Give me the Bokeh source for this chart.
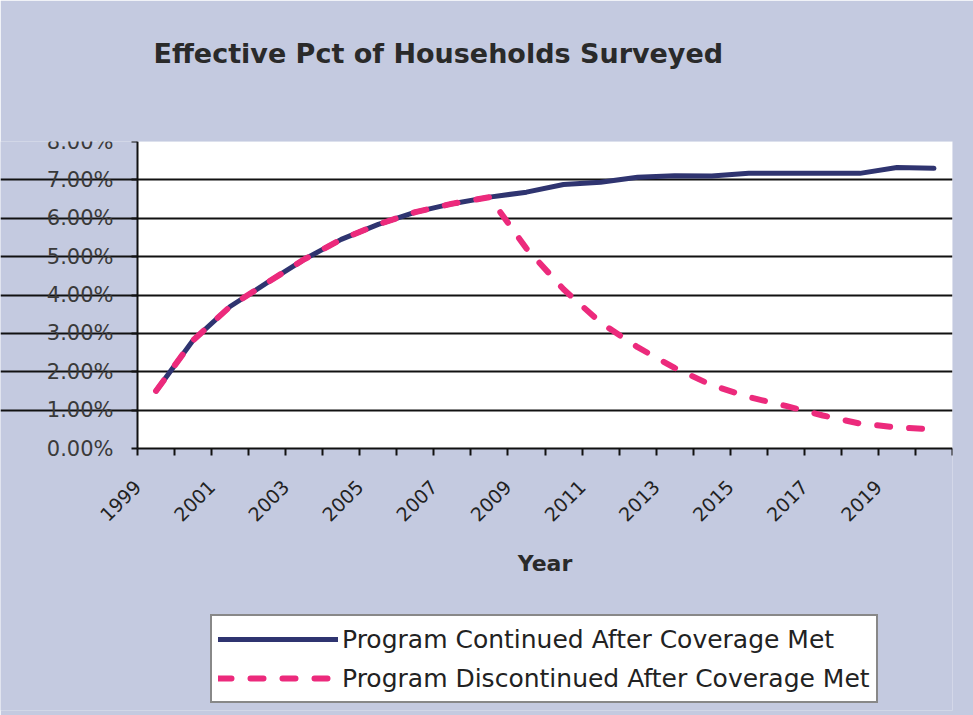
from bokeh.plotting import figure
from bokeh.models import (Range1d, FixedTicker, PrintfTickFormatter, Legend, LegendItem,
                          Title, BoxAnnotation)
from bokeh.embed import file_html
from bokeh.resources import INLINE

# Survey coverage, percent of households, 1999-2020
years = list(range(1999, 2021))
continued = [1.50, 2.82, 3.70, 4.32, 4.93, 5.45, 5.84, 6.16, 6.38, 6.55, 6.68,
             6.88, 6.94, 7.07, 7.11, 7.10, 7.17, 7.17, 7.17, 7.17, 7.32, 7.30]
discontinued = [1.50, 2.82, 3.70, 4.32, 4.93, 5.45, 5.84, 6.16, 6.38, 6.55, 5.21,
                4.15, 3.28, 2.64, 2.10, 1.65, 1.34, 1.11, 0.86, 0.65, 0.55, 0.50]
label_years = [1999, 2001, 2003, 2005, 2007, 2009, 2011, 2013, 2015, 2017, 2019]
y_ticks = [0, 1, 2, 3, 4, 5, 6, 7, 8]

chart_title = "Effective Pct of Households Surveyed"
series_names = ["Program Continued After Coverage Met",
                "Program Discontinued After Coverage Met"]

PANEL = "#c4cae0"
NAVY = "#2f3470"
PINK = "#ec2a7c"
FONT = "DejaVu Sans"

# Page geometry (pixels).  The frame spans the whole chart panel so the
# axis labels and the legend around the white plot area are drawn inside it.
PLOT_LEFT_PX = 137   # white plot area starts here
PLOT_W_PX = 815
PLOT_PX = 307        # height of the 0-8% plot area
BELOW_PX = 262       # room under the 0% line for year labels and legend
RIGHT_PX = 21

x_lo, x_hi = years[0] - 0.5, years[-1] + 0.5
px_per_year = PLOT_W_PX / (x_hi - x_lo)
x_start = x_lo - PLOT_LEFT_PX / px_per_year
y_low = -y_ticks[-1] * BELOW_PX / PLOT_PX

p = figure(frame_width=PLOT_LEFT_PX + PLOT_W_PX, frame_height=PLOT_PX + BELOW_PX,
           output_backend="svg", toolbar_location=None,
           x_range=Range1d(x_start, x_hi),
           y_range=Range1d(y_low, y_ticks[-1]),
           min_border_left=0, min_border_right=RIGHT_PX,
           min_border_top=141, min_border_bottom=5)
p.border_fill_color = PANEL
p.background_fill_color = PANEL
p.outline_line_color = None
p.title.text = ""

# white plot area
p.add_layout(BoxAnnotation(left=x_lo, right=x_hi, bottom=y_ticks[0], top=y_ticks[-1],
                           fill_color="white", fill_alpha=1, line_color=None,
                           level="image"))

# gap between the plot area and the heading, then the heading itself
p.add_layout(Title(text=" ", text_font_size="1px", standoff=70), "above")
p.add_layout(Title(text=chart_title, align="left", offset=153, standoff=0,
                   text_font=FONT, text_font_style="bold", text_font_size="27px",
                   text_color="#2a2a2a"), "above")

# horizontal grid only, 1%..7%, across the plot area
p.xgrid.visible = False
p.ygrid.ticker = FixedTicker(ticks=y_ticks[1:-1])
p.ygrid.bounds = (x_lo, x_hi)
p.ygrid.grid_line_color = "#111111"
p.ygrid.grid_line_width = 2

# y axis on the left edge of the plot area
ya = p.yaxis[0]
ya.fixed_location = x_lo
ya.ticker = FixedTicker(ticks=y_ticks)
ya.bounds = (y_ticks[0], y_ticks[-1])
ya.formatter = PrintfTickFormatter(format="%.2f%%")
ya.axis_line_color = "#111111"
ya.axis_line_width = 2
ya.major_tick_line_color = "#111111"
ya.major_tick_line_width = 2
ya.major_tick_out = 6
ya.major_tick_in = 0
ya.minor_tick_line_color = None
ya.major_label_text_font = FONT
ya.major_label_text_font_size = "21px"
ya.major_label_text_color = "#3a3a3a"
ya.major_label_standoff = 18

# x axis on the 0% line: a tick between every pair of years, a label every other year
xa = p.xaxis[0]
xa.fixed_location = y_ticks[0]
xa.bounds = (x_lo, x_hi)
boundaries = [y - 0.5 for y in years] + [years[-1] + 0.5]
label_pos = [y - 0.5 for y in label_years]
xa.ticker = FixedTicker(ticks=label_pos, minor_ticks=boundaries)
xa.major_label_overrides = {pos: str(y) for pos, y in zip(label_pos, label_years)}
xa.major_label_orientation = 0.785398
xa.major_tick_line_color = None
xa.minor_tick_line_color = "#111111"
xa.minor_tick_line_width = 2
xa.minor_tick_out = 7
xa.minor_tick_in = 0
xa.axis_line_color = "#111111"
xa.axis_line_width = 2
xa.major_label_text_font = FONT
xa.major_label_text_font_size = "19px"
xa.major_label_text_color = "#222222"
xa.major_label_standoff = 28
xa.axis_label = "Year"
xa.axis_label_text_font = FONT
xa.axis_label_text_font_style = "bold"
xa.axis_label_text_font_size = "22px"
xa.axis_label_text_color = "#2a2a2a"
xa.axis_label_standoff = 20

r1 = p.line(years, continued, line_color=NAVY, line_width=5, line_cap="round",
            line_join="round")
r2 = p.line(years, discontinued, line_color=PINK, line_width=6, line_cap="round",
            line_join="round", line_dash="13 19")

legend = Legend(items=[LegendItem(label=series_names[0], renderers=[r1]),
                       LegendItem(label=series_names[1], renderers=[r2])],
                location=(210, 7), orientation="vertical")
legend.background_fill_color = "white"
legend.background_fill_alpha = 1
legend.border_line_color = "#111111"
legend.border_line_width = 2
legend.glyph_width = 120
legend.glyph_height = 34
legend.spacing = 5
legend.padding = 6
legend.margin = 0
legend.label_standoff = 4
legend.label_text_font = FONT
legend.label_text_font_size = "25px"
legend.label_text_color = "#222222"
legend.label_height = 34
p.add_layout(legend)

open("out.html", "w").write(file_html(p, INLINE))
